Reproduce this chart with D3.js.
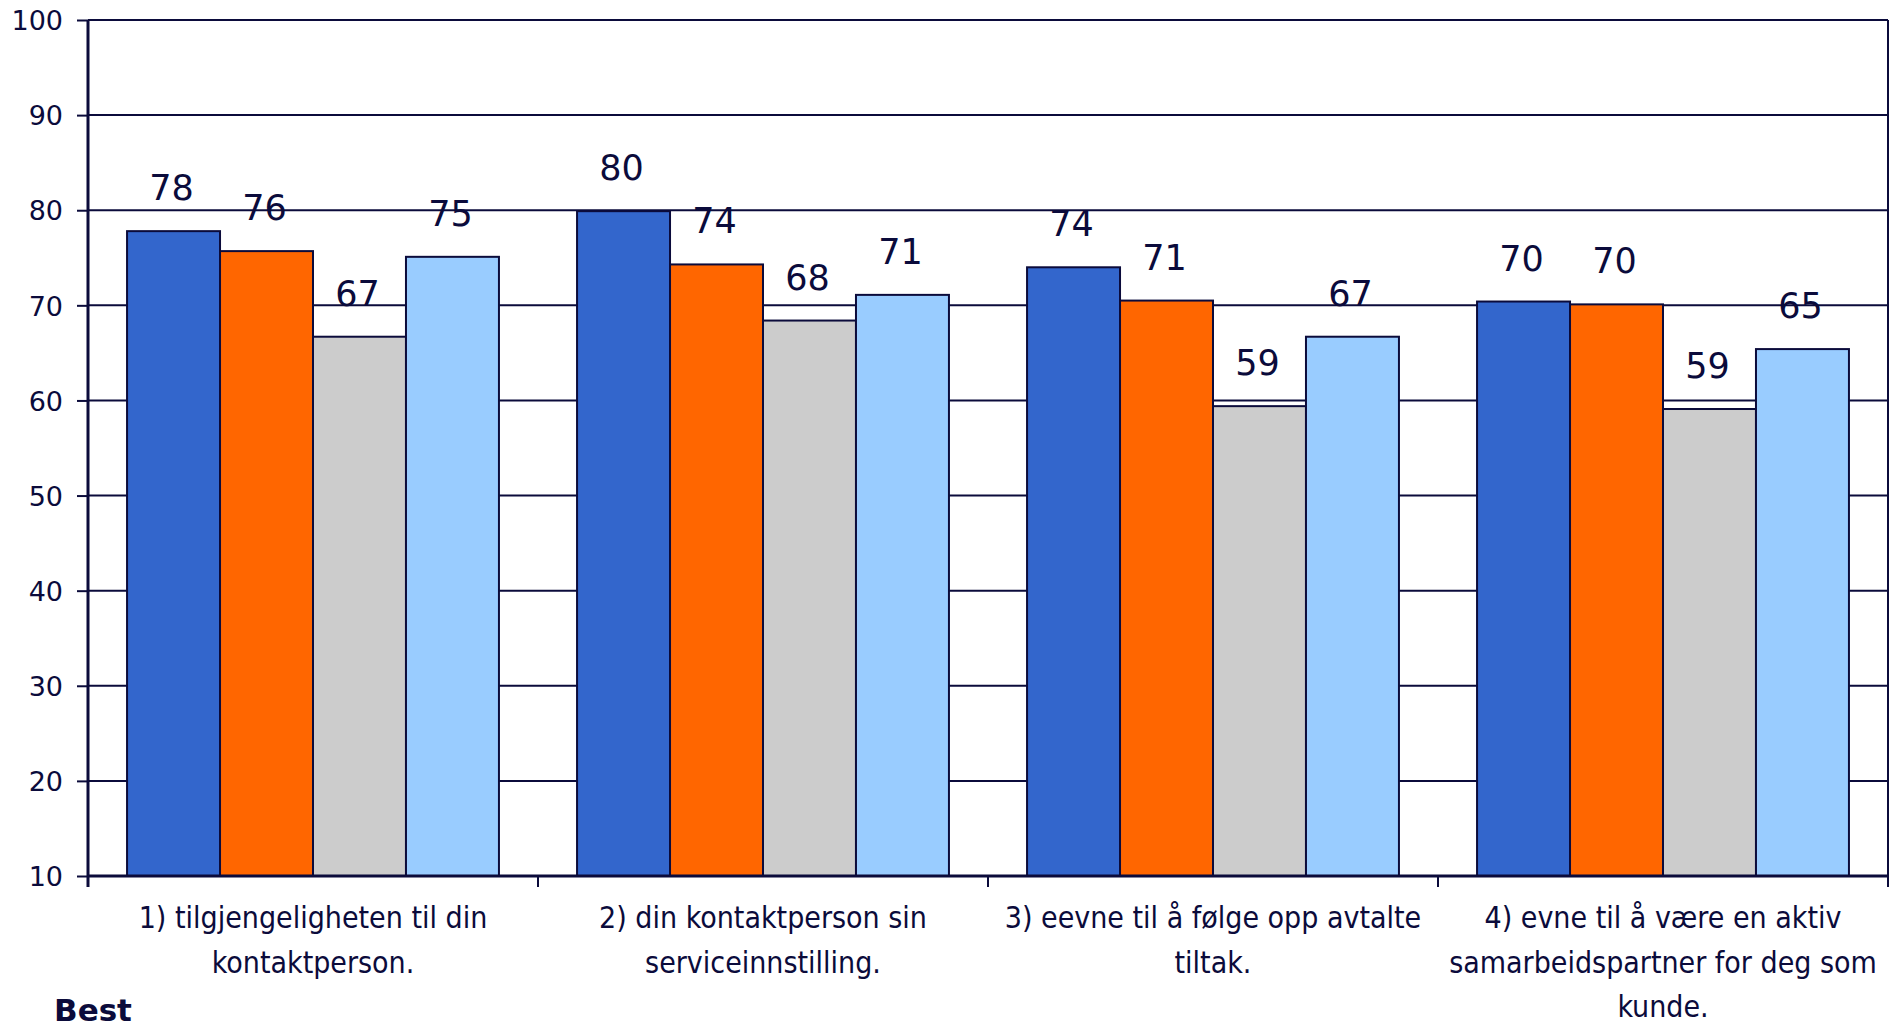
<!DOCTYPE html>
<html>
<head>
<meta charset="utf-8">
<script src="https://cdn.jsdelivr.net/npm/d3@7"></script>
<style>
  html, body { margin: 0; padding: 0; background: #fff; }
  svg { display: block; }
</style>
</head>
<body>
<svg id="chart" width="1890" height="1022"></svg>
<script>
const categories = [
  ["1) tilgjengeligheten til din", "kontaktperson."],
  ["2) din kontaktperson sin", "serviceinnstilling."],
  ["3) eevne til å følge opp avtalte", "tiltak."],
  ["4) evne til å være en aktiv", "samarbeidspartner for deg som", "kunde."]
];
const seriesNames = ["Serie 1", "Serie 2", "Serie 3", "Serie 4"];
const seriesColors = ["#3366CC", "#FF6600", "#CCCCCC", "#99CCFF"];
const serie1 = [77.8, 79.9, 74.0, 70.4];
const serie2 = [75.7, 74.3, 70.5, 70.1];
const serie3 = [66.7, 68.4, 59.4, 59.1];
const serie4 = [75.1, 71.1, 66.7, 65.4];
const yTicks = [10, 20, 30, 40, 50, 60, 70, 80, 90, 100];
const footnote = "Best";

(function () {
const seriesValues = [serie1, serie2, serie3, serie4];
const ink = "#0b0b3b";

const svg = d3.select("#chart");
const pLeft = 88, pRight = 1888, pTop = 20, pBottom = 876;

const catKeys = categories.map((c, i) => i);
const x0 = d3.scaleBand().domain(catKeys).range([pLeft, pRight]).paddingInner(0).paddingOuter(0);
const x1 = d3.scaleBand().domain(seriesNames).range([0, x0.bandwidth()]).paddingInner(0).paddingOuter(0.42);
const y = d3.scaleLinear().domain([10, 100]).range([pBottom, pTop]);

// gridlines
svg.append("g")
  .selectAll("line")
  .data(yTicks.filter(t => t > 10))
  .join("line")
  .attr("x1", pLeft).attr("x2", pRight)
  .attr("y1", d => y(d)).attr("y2", d => y(d))
  .attr("stroke", ink).attr("stroke-width", 2);

// right border
svg.append("line")
  .attr("x1", pRight).attr("x2", pRight).attr("y1", pTop).attr("y2", pBottom)
  .attr("stroke", ink).attr("stroke-width", 2);

// bars
const rows = [];
catKeys.forEach(ci => seriesNames.forEach((s, si) => rows.push({ ci, si, s, v: seriesValues[si][ci] })));

svg.append("g")
  .selectAll("rect")
  .data(rows)
  .join("rect")
  .attr("x", d => x0(d.ci) + x1(d.s))
  .attr("width", x1.bandwidth())
  .attr("y", d => y(d.v))
  .attr("height", d => y(10) - y(d.v))
  .attr("fill", d => seriesColors[d.si])
  .attr("stroke", ink).attr("stroke-width", 2);

// value labels
svg.append("g")
  .selectAll("text")
  .data(rows)
  .join("text")
  .attr("x", d => x0(d.ci) + x1(d.s) + x1.bandwidth() / 2 - 2)
  .attr("y", d => y(d.v) - 31)
  .attr("text-anchor", "middle")
  .attr("font-family", "DejaVu Sans, Verdana, sans-serif")
  .attr("font-size", 35)
  .attr("fill", ink)
  .text(d => d3.format(".0f")(Math.round(d.v)));

// y axis
const yAxis = d3.axisLeft(y).tickValues(yTicks).tickSize(11).tickPadding(14).tickFormat(d3.format("d"));
const gy = svg.append("g").attr("transform", `translate(${pLeft},0)`).call(yAxis);
gy.select(".domain").attr("stroke", ink).attr("stroke-width", 3)
  .attr("d", `M0,${pTop}V${pBottom + 11}`);
gy.selectAll(".tick line").attr("stroke", ink).attr("stroke-width", 2);
gy.selectAll(".tick text")
  .attr("font-family", "DejaVu Sans, sans-serif")
  .attr("font-size", 27)
  .attr("fill", ink)
  .attr("dy", "0.36em");

// x axis
const xAxisG = svg.append("g");
xAxisG.append("line")
  .attr("x1", pLeft).attr("x2", pRight).attr("y1", pBottom).attr("y2", pBottom)
  .attr("stroke", ink).attr("stroke-width", 3);
const boundaries = catKeys.map(ci => x0(ci)).concat([pRight]);
xAxisG.selectAll("line.tk")
  .data(boundaries)
  .join("line").attr("class", "tk")
  .attr("x1", d => d).attr("x2", d => d)
  .attr("y1", pBottom).attr("y2", pBottom + 11)
  .attr("stroke", ink).attr("stroke-width", 2);

const catLabels = xAxisG.selectAll("text.cat")
  .data(categories)
  .join("text").attr("class", "cat")
  .attr("x", (d, i) => x0(i) + x0.bandwidth() / 2)
  .attr("y", 928)
  .attr("text-anchor", "middle")
  .attr("font-family", "DejaVu Sans Condensed, DejaVu Sans, sans-serif")
  .attr("font-size", 30)
  .attr("fill", ink);
catLabels.selectAll("tspan")
  .data(d => d)
  .join("tspan")
  .attr("x", function () { return this.parentNode.getAttribute("x"); })
  .attr("dy", (d, i) => i === 0 ? 0 : 44.5)
  .text(d => d);

// footnote
svg.append("text")
  .attr("x", 54).attr("y", 1021)
  .attr("font-family", "DejaVu Sans, sans-serif")
  .attr("font-weight", "bold")
  .attr("font-size", 31)
  .attr("fill", ink)
  .text(footnote);
})();
</script>
</body>
</html>
